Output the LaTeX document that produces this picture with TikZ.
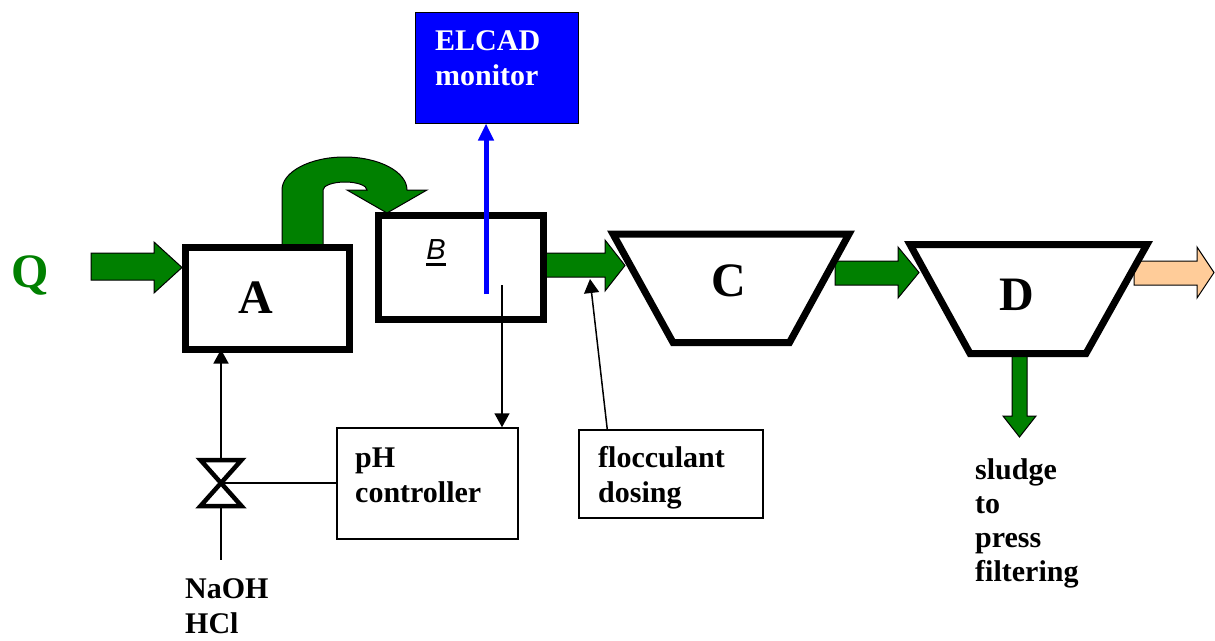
\documentclass[tikz,border=0pt]{standalone}
\usepackage{fontspec}
\setmainfont{Liberation Serif}
\newfontfamily\sansfam{Liberation Sans}
\usetikzlibrary{arrows.meta,calc}
\definecolor{flowgreen}{RGB}{0,128,0}
\definecolor{peach}{RGB}{255,204,153}
\definecolor{monblue}{RGB}{0,0,255}
\begin{document}
\begin{tikzpicture}[x=1pt,y=-1pt,
  thickbox/.style={draw,line width=7pt,rectangle,inner sep=0pt,fill=white},
  thinbox/.style={draw,line width=1.5pt,rectangle,inner sep=0pt,fill=white},
  txt/.style={font=\fontsize{30}{34}\selectfont\bfseries,inner sep=0pt,anchor=base west},
  big/.style={font=\fontsize{48}{52}\selectfont\bfseries,inner sep=0pt,anchor=base},
  blockarrow/.style={draw=black,line width=1pt,fill=flowgreen,line join=miter},
  sigline/.style={line width=1.5pt,-{Triangle[length=14pt,width=15pt]}},
  vessel/.style={draw,line width=7pt,line join=miter,fill=white},
  valvetri/.style={draw,line width=4.5pt,fill=white,line join=miter}
]
\useasboundingbox (0,0) rectangle (1215,640);

% ---- block flow arrows (drawn first, boxes overlap their ends)
\draw[blockarrow] (91,253) -- (154,253) -- (154,242) -- (182,267.5) -- (154,293) -- (154,280) -- (91,280) -- cycle;
\draw[blockarrow] (282,249) -- (282,190) .. controls (282,171.8) and (310,157) .. (344.5,157)
  .. controls (379,157) and (407,171.8) .. (407,190) -- (427,190) -- (387,213) -- (347,190) -- (367,190)
  .. controls (367,185.6) and (357.2,182) .. (345,182) .. controls (332.8,182) and (323,185.6) .. (323,190)
  -- (323,249) -- cycle;
\draw[blockarrow] (540,253) -- (605,253) -- (605,240) -- (625,265.5) -- (605,291) -- (605,277) -- (540,277) -- cycle;
\draw[blockarrow] (835,261) -- (898,261) -- (898,247) -- (919,272.5) -- (898,298) -- (898,285) -- (835,285) -- cycle;
\draw[blockarrow,fill=peach] (1134,261) -- (1197,261) -- (1197,247) -- (1214,272.5) -- (1197,298) -- (1197,285) -- (1134,285) -- cycle;
\draw[blockarrow] (1012,350) -- (1027,350) -- (1027,416) -- (1036,416) -- (1019.5,437) -- (1003,416) -- (1012,416) -- cycle;

% ---- process units
\node[thickbox,minimum width=164pt,minimum height=102pt] (A) at (267.5,298.5) {};
\node[big] (Alab) at (256,313) {A};
\node[thickbox,minimum width=165pt,minimum height=104pt] (B) at (461,267.5) {};
\node[inner sep=0pt,anchor=base,font=\sansfam\itshape\fontsize{29}{33}\selectfont] (Blab) at (436,259) {B};
\draw[line width=3pt] ([yshift=-5.5pt]Blab.base west) -- ([yshift=-5.5pt]Blab.base east);

\coordinate (C1) at (613,234);
\coordinate (C2) at (849,234);
\coordinate (C3) at (789.5,342.5);
\coordinate (C4) at (673,342.5);
\draw[vessel] (C1) -- (C2) -- (C3) -- (C4) -- cycle;
\node[big] (Clab) at (729,296) {C};

\coordinate (D1) at (910,244.5);
\coordinate (D2) at (1147,244.5);
\coordinate (D3) at (1086,353.5);
\coordinate (D4) at (970,353.5);
\draw[vessel] (D1) -- (D2) -- (D3) -- (D4) -- cycle;
\node[big] (Dlab) at (1017,310) {D};

\node[big,text=flowgreen] (Q) at (30.5,287) {Q};

% ---- ELCAD monitor
\node[draw=black,line width=1pt,fill=monblue,rectangle,inner sep=0pt,minimum width=163pt,minimum height=111pt] (E) at (496.5,67.5) {};
\node[txt,text=white] (E1) at (435,50) {ELCAD};
\node[txt,text=white] (E2) at (435,85) {monitor};
\coordinate (probe) at (486,294);
\draw[line width=5pt,draw=monblue,-{Triangle[length=17pt,width=15pt]}] (probe) -- (probe |- E.south);

% ---- pH controller
\node[thinbox,minimum width=181pt,minimum height=111pt] (P) at (427.5,483.5) {};
\node[txt] (P1) at (355,467) {pH};
\node[txt] (P2) at (355,502) {controller};
\coordinate (phin) at (502,285);
\draw[sigline] (phin) -- (phin |- P.north);

% ---- valve
\coordinate (V) at (221,483);
\coordinate (Vt) at (221,458);
\coordinate (Vb) at (221,508);
\coordinate (feed) at (221,560);
\draw[line width=1.5pt] (V) -- (V -| P.west);
\draw[sigline,shorten >=-3.5pt] (Vt) -- (Vt |- A.south);
\draw[line width=1.5pt] (Vb) -- (feed);
\draw[valvetri] (200.5,460) -- (241.5,460) -- (V) -- cycle;
\draw[valvetri] (200.5,506) -- (241.5,506) -- (V) -- cycle;
\node[txt] (N1) at (185,598) {NaOH};
\node[txt] (N2) at (185,633) {HCl};

% ---- flocculant dosing
\node[thinbox,minimum width=184pt,minimum height=88pt] (F) at (671,474) {};
\node[txt] (F1) at (598,467) {flocculant};
\node[txt] (F2) at (598,502) {dosing};
\coordinate (fdos) at ($(F.north west)+(29,0)$);
\coordinate (finj) at (590,279);
\draw[sigline] (fdos) -- (finj);

% ---- sludge
\node[txt] (S1) at (975,479) {sludge};
\node[txt] (S2) at (975,513) {to};
\node[txt] (S3) at (975,547) {press};
\node[txt] (S4) at (975,581) {filtering};
\end{tikzpicture}
\end{document}
